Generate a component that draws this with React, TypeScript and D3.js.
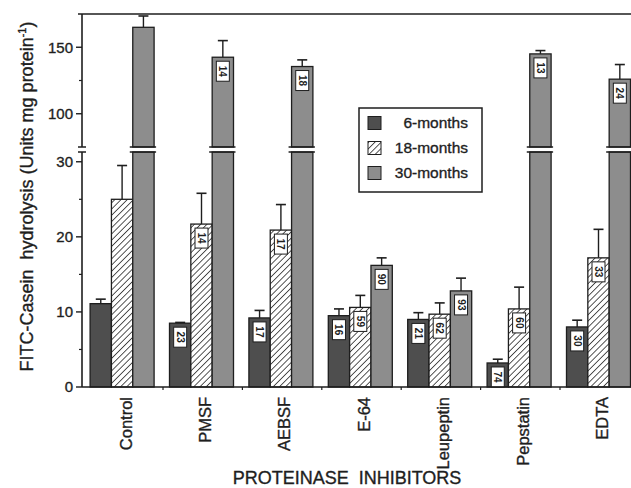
import * as d3 from "d3";

const categories = ["Control", "PMSF", "AEBSF", "E-64", "Leupeptin", "Pepstatin", "EDTA"];
const seriesNames = ["6-months", "18-months", "30-months"];

const months6 = [11.1, 8.5, 9.2, 9.5, 9.0, 3.2, 8.0];
const months6Err = [0.6, 0.1, 1.0, 0.9, 0.9, 0.5, 0.9];
const months18 = [25.0, 21.7, 20.9, 10.6, 9.7, 10.4, 17.2];
const months18Err = [4.5, 4.1, 3.4, 1.6, 1.5, 2.9, 3.8];
const months30 = [165, 142.5, 135.5, 16.2, 12.8, 145, 126];
const months30Err = [8.5, 12.5, 5, 1.0, 1.7, 2.5, 11];

const labels6 = ["", "23", "17", "16", "21", "74", "30"];
const labels18 = ["", "14", "17", "59", "62", "60", "33"];
const labels30 = ["", "14", "18", "90", "93", "13", "24"];

const lowTicks = [0, 10, 20, 30];
const lowMinor = [5, 15, 25];
const highTicks = [100, 150];
const highMinor = [125];

const W = 631;
const H = 488;
const font = "'Liberation Sans', Arial, Helvetica, sans-serif";
const ink = "#1e1e1e";
const fills = ["#4e4e4e", "url(#hatch)", "#8d8d8d"];

const LOW_MAX = 31.3;

// scanned text looks slightly heavier than regular
const heavy = { stroke: ink, strokeWidth: 0.35 };

export default function App() {
  const x = d3.scaleBand<string>().domain(categories).range([83.6, 639.4]);
  const xs = d3.scaleBand<string>().domain(seriesNames).range([6.5, 70.5]);
  const yLow = d3.scaleLinear().domain([0, LOW_MAX]).range([387, 152]);
  const yHigh = d3.scaleLinear().domain([75, 175]).range([147, 14]);

  const values = [months6, months18, months30];
  const errs = [months6Err, months18Err, months30Err];
  const labels = [labels6, labels18, labels30];

  const axisX = 82;
  const bw = xs.bandwidth();

  const yOf = (v: number) => (v > LOW_MAX ? yHigh(v) : yLow(v));

  return (
    <svg width={W} height={H} style={{ position: "absolute", left: 0, top: 0, background: "#fff" }}>
      <defs>
        <pattern id="hatch" width="4.4" height="4.4" patternUnits="userSpaceOnUse" patternTransform="rotate(45)">
          <rect width="4.4" height="4.4" fill="#fff" />
          <line x1="0" y1="0" x2="0" y2="4.4" stroke={ink} strokeWidth="1.5" />
        </pattern>
      </defs>

      {/* bars */}
      {categories.map((c, ci) => (
        <g key={c} transform={`translate(${x(c)},0)`}>
          {seriesNames.map((s, si) => {
            const v = values[si][ci];
            const e = errs[si][ci];
            const bx = xs(s)!;
            const top = yOf(v);
            const errTop = yOf(v + e);
            const cx = bx + bw / 2;
            const lab = labels[si][ci];
            const broken = v > LOW_MAX;
            return (
              <g key={s}>
                <line x1={cx} x2={cx} y1={top} y2={errTop} stroke={ink} strokeWidth={1.4} />
                <line x1={cx - 5} x2={cx + 5} y1={errTop} y2={errTop} stroke={ink} strokeWidth={1.6} />
                {broken ? (
                  <>
                    <rect x={bx} y={yLow(LOW_MAX)} width={bw} height={yLow(0) - yLow(LOW_MAX)} fill={fills[si]} stroke={ink} strokeWidth={1.3} />
                    <rect x={bx} y={top} width={bw} height={yHigh(75) - top} fill={fills[si]} stroke={ink} strokeWidth={1.3} />
                    <line x1={bx - 3} x2={bx + bw + 2} y1={yHigh(75)} y2={yHigh(75)} stroke={ink} strokeWidth={1.5} />
                    <line x1={bx - 3} x2={bx + bw + 2} y1={yLow(LOW_MAX)} y2={yLow(LOW_MAX)} stroke={ink} strokeWidth={1.5} />
                  </>
                ) : (
                  <rect x={bx} y={top} width={bw} height={yLow(0) - top} fill={fills[si]} stroke={ink} strokeWidth={1.3} />
                )}
                {lab && (
                  <g transform={`translate(${cx},${top + 4})`}>
                    <rect x={-6.5} y={0} width={13} height={20} fill="#fff" stroke={ink} strokeWidth={1} />
                    <text
                      transform="translate(0,10) rotate(90)"
                      textAnchor="middle"
                      dy="0.35em"
                      fontFamily={font}
                      fontSize={10}
                      fontWeight="bold"
                      fill={ink}
                    >
                      {lab}
                    </text>
                  </g>
                )}
              </g>
            );
          })}
        </g>
      ))}

      {/* top frame line */}
      <line x1={78} x2={W} y1={14} y2={14} stroke={ink} strokeWidth={1.6} />

      {/* x axis */}
      <line x1={axisX} x2={W} y1={yLow(0)} y2={yLow(0)} stroke={ink} strokeWidth={1.6} />
      {categories.slice(1).map((c) => (
        <line key={c} x1={x(c)} x2={x(c)} y1={yLow(0)} y2={yLow(0) + 3} stroke={ink} strokeWidth={1.2} />
      ))}
      {categories.map((c) => (
        <text
          key={c}
          transform={`translate(${x(c)! + x.bandwidth() / 2 + 2.5},${yLow(0) + 10}) rotate(-90)`}
          textAnchor="end"
          dy="0.35em"
          fontFamily={font}
          fontSize={16.5}
          fill={ink}
          {...heavy}
        >
          {c}
        </text>
      ))}

      {/* y axis with break */}
      <line x1={axisX} x2={axisX} y1={yLow(0)} y2={yLow(LOW_MAX)} stroke={ink} strokeWidth={1.6} />
      <line x1={axisX} x2={axisX} y1={yHigh(75)} y2={14} stroke={ink} strokeWidth={1.6} />
      <line x1={axisX - 4} x2={axisX + 4} y1={yLow(LOW_MAX)} y2={yLow(LOW_MAX)} stroke={ink} strokeWidth={1.5} />
      <line x1={axisX - 4} x2={axisX + 4} y1={yHigh(75)} y2={yHigh(75)} stroke={ink} strokeWidth={1.5} />
      {lowTicks.map((t) => (
        <g key={`l${t}`}>
          <line x1={axisX - 6} x2={axisX} y1={yLow(t)} y2={yLow(t)} stroke={ink} strokeWidth={1.4} />
          <text x={axisX - 9} y={yLow(t)} dy="0.35em" textAnchor="end" fontFamily={font} fontSize={15} fill={ink} {...heavy}>
            {t}
          </text>
        </g>
      ))}
      {lowMinor.map((t) => (
        <line key={`lm${t}`} x1={axisX - 3} x2={axisX} y1={yLow(t)} y2={yLow(t)} stroke={ink} strokeWidth={1.2} />
      ))}
      {highTicks.map((t) => (
        <g key={`h${t}`}>
          <line x1={axisX - 6} x2={axisX} y1={yHigh(t)} y2={yHigh(t)} stroke={ink} strokeWidth={1.4} />
          <text x={axisX - 9} y={yHigh(t)} dy="0.35em" textAnchor="end" fontFamily={font} fontSize={15} fill={ink} {...heavy}>
            {t}
          </text>
        </g>
      ))}
      {highMinor.map((t) => (
        <line key={`hm${t}`} x1={axisX - 3} x2={axisX} y1={yHigh(t)} y2={yHigh(t)} stroke={ink} strokeWidth={1.2} />
      ))}

      {/* axis titles */}
      <text
        transform="translate(33,196.5) rotate(-90)"
        textAnchor="middle"
        fontFamily={font}
        fontSize={18}
        fill={ink}
        style={{ whiteSpace: "pre" }}
        {...heavy}
      >
        {"FITC-Casein  hydrolysis (Units mg protein"}
        <tspan fontSize={11} dy={-7}>-1</tspan>
        <tspan dy={7}>)</tspan>
      </text>
      <text x={347} y={484} textAnchor="middle" fontFamily={font} fontSize={18} fill={ink} style={{ whiteSpace: "pre" }} {...heavy}>
        {"PROTEINASE  INHIBITORS"}
      </text>

      {/* legend */}
      <g>
        <rect x={359} y={108} width={123} height={84} fill="#fff" stroke={ink} strokeWidth={1.5} />
        {seriesNames.map((s, i) => {
          const cy = 123 + i * 25;
          return (
            <g key={s}>
              <rect x={368} y={cy - 6.5} width={13} height={13} fill={fills[i]} stroke={ink} strokeWidth={1} />
              <text x={468} y={cy} dy="0.35em" textAnchor="end" fontFamily={font} fontSize={15.5} fill={ink} {...heavy}>
                {s}
              </text>
            </g>
          );
        })}
      </g>
    </svg>
  );
}
